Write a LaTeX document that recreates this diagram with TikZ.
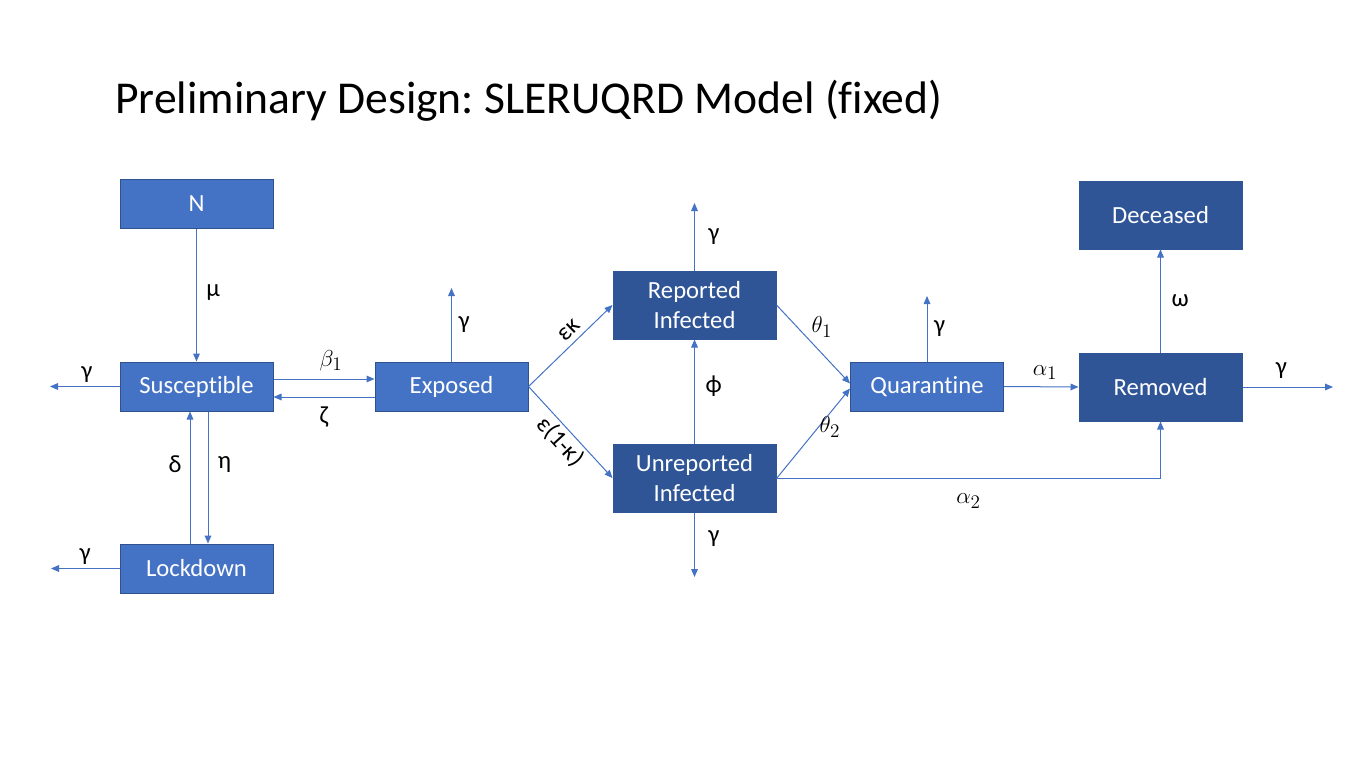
\documentclass[tikz,border=0pt]{standalone}
\usepackage{fontspec}
\setmainfont{Carlito}[Ligatures=CommonOff]
\frenchspacing
\usetikzlibrary{arrows.meta}
\definecolor{lightbox}{HTML}{4472C4}
\definecolor{lightedge}{HTML}{2F528F}
\definecolor{darkbox}{HTML}{2F5597}
\definecolor{arrowc}{HTML}{4472C4}
\tikzset{
  lbox/.style={draw=lightedge, fill=lightbox, line width=0.75pt, text=white,
    minimum width={153*0.75pt}, minimum height={49*0.75pt}, inner sep=0pt,
    font=\fontsize{18.5}{20}\selectfont, align=center},
  dbox/.style={draw=darkbox, fill=darkbox, line width=0.75pt, text=white,
    minimum width={163*0.75pt}, minimum height={68*0.75pt}, inner sep=0pt,
    font=\fontsize{18.5}{23}\selectfont, align=center},
  flow/.style={draw=arrowc, line width=0.75pt, -{Triangle[length=6pt,width=5pt]}},
  lab/.style={font=\fontsize{18.5}{20}\selectfont, text=black, inner sep=0pt},
  mlab/.style={font=\fontsize{19}{20}\selectfont, text=black, inner sep=0pt}
}
\begin{document}
\begin{tikzpicture}[x=0.75pt,y=-0.75pt]
\useasboundingbox[fill=white] (0,0) rectangle (1370,771);
\node[anchor=base west, font=\fontsize{34.2}{38}\selectfont, inner sep=0pt] (title) at (115,113) {Preliminary Design: SLERUQRD Model (fixed)};

\node[lbox] (N) at (196.5,203.5) {N};
\node[lbox] (S) at (196.5,386.5) {Susceptible};
\node[lbox] (L) at (196.5,568.5) {Lockdown};
\node[lbox] (E) at (451.5,386.5) {Exposed};
\node[dbox] (R) at (694.5,305) {Reported\\Infected};
\node[dbox] (U) at (694.5,478) {Unreported\\Infected};
\node[lbox] (Q) at (927,386.5) {Quarantine};
\node[dbox] (D) at (1160.5,215) {Deceased};
\node[dbox] (M) at (1160.5,387) {Removed};

\coordinate (Sg) at (50,386.5);
\coordinate (Lg) at (51,568.5);
\coordinate (Eg) at (451.5,288);
\coordinate (Rg) at (694.5,203);
\coordinate (Ug) at (694.5,577);
\coordinate (Qg) at (927,296);
\coordinate (Mg) at (1333,387);

% N -> S
\draw[flow] (N) -- node[lab, pos=0.48, right=7pt] {μ} (S);
% gamma outflows of S and L
\draw[flow] (S) -- node[lab, pos=0.47, above=3pt] {γ} (Sg);
\draw[flow] (L) -- node[lab, pos=0.5, above=3pt] {γ} (Lg);
% delta, eta
\draw[flow] ([xshift=-6.5*0.75pt]L.north) -- node[lab, pos=0.6, left=6pt] {δ} ([xshift=-6.5*0.75pt]S.south);
\draw[flow] ([xshift=11.5*0.75pt]S.south) -- node[lab, pos=0.4, right=7pt] {η} ([xshift=11.5*0.75pt]L.north);
% beta1, zeta
\draw[flow] ([yshift=7.5*0.75pt]S.east) -- node[mlab, pos=0.57, above=6pt] {$\beta_1$} ([yshift=7.5*0.75pt]E.west);
\draw[flow] ([yshift=-10.5*0.75pt]E.west) -- node[lab, pos=0.5, below=7pt] {ζ} ([yshift=-10.5*0.75pt]S.east);
% Exposed gamma
\draw[flow] (E.north) -- node[lab, pos=0.5, right=5pt] {γ} (Eg);
% epsilon kappa branches
\draw[flow] (E.east) -- node[lab, pos=0.58, sloped, above=4pt] {εκ} (R.west);
\draw[flow] (E.east) -- node[lab, pos=0.5, sloped, below=2pt] {ε(1-κ)} (U.west);
% Reported gamma, Unreported gamma
\draw[flow] (R.north) -- node[lab, pos=0.5, right=10pt] {γ} (Rg);
\draw[flow] (U.south) -- node[lab, pos=0.4, right=10pt] {γ} (Ug);
% phi
\draw[flow] (U.north) -- node[lab, pos=0.55, right=8pt] {ϕ} (R.south);
% theta
\draw[flow] (R.east) -- node[mlab, pos=0.38, anchor=south west, xshift=5pt, yshift=-2pt] {$\theta_1$} ([yshift=3*0.75pt]Q.west);
\draw[flow] ([yshift=-0.5*0.75pt]U.east) -- node[mlab, pos=0.38, anchor=south west, xshift=11pt, yshift=5pt] {$\theta_2$} ([yshift=-2*0.75pt]Q.west);
% Q gamma
\draw[flow] (Q.north) -- node[lab, pos=0.5, right=5pt] {γ} (Qg);
% alpha1
\draw[flow] (Q.east) -- node[mlab, pos=0.55, above=5pt] {$\alpha_1$} (M.west);
% Removed gamma
\draw[flow] (M.east) -- node[lab, pos=0.43, above=6pt] {γ} (Mg);
% omega
\draw[flow] (M.north) -- node[lab, pos=0.5, right=8pt] {ω} (D.south);
% alpha2
\draw[flow] ([yshift=-0.5*0.75pt]U.east) -| node[mlab, pos=0.25, below=11pt] {$\alpha_2$} (M.south);
\end{tikzpicture}
\end{document}
